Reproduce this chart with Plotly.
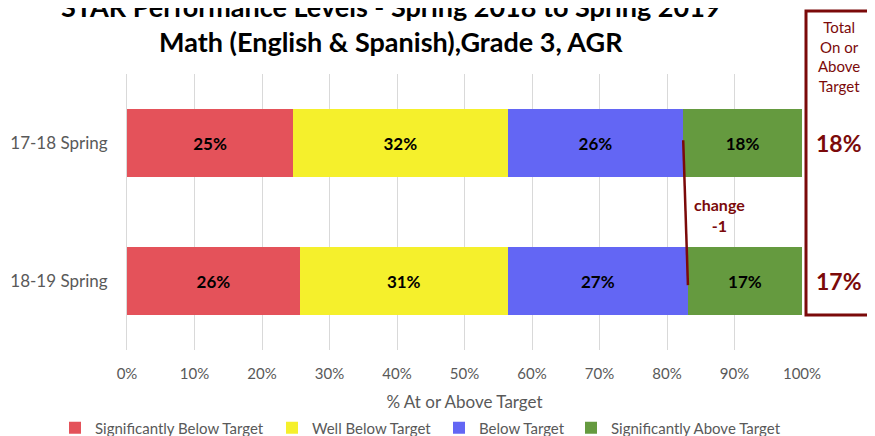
import plotly.graph_objects as go

categories = ["17-18 Spring", "18-19 Spring"]
series_names = ["Significantly Below Target", "Well Below Target", "Below Target", "Significantly Above Target"]
sig_below = [24.6, 25.6]
well_below = [31.8, 30.8]
below = [26.0, 26.7]
sig_above = [17.6, 16.9]
colors = ["#E4525A", "#F5F02C", "#6366F4", "#659A3F"]
x_ticks = [0, 10, 20, 30, 40, 50, 60, 70, 80, 90, 100]
change_value = -1

DARK_RED = "#7B0A0A"
FONT = "Lato"

# page body has an 8px margin, so the figure sits at (8, 8) in the window
OFF = 8
W, H = 875 - OFF, 436 - OFF
L, R, T, B = 119, 73, 66, 86
pw, ph = W - L - R, H - T - B

def px_x(p):  # window pixel -> paper x
    return (p - OFF - L) / pw

def px_y(p):  # window pixel -> paper y
    return (H - B - (p - OFF)) / ph

legend_ids = ["legend", "legend2", "legend3", "legend4"]
legend_text_px = [93, 310, 477, 609]

fig = go.Figure()
for name, vals, col, lid in zip(series_names, [sig_below, well_below, below, sig_above], colors, legend_ids):
    fig.add_trace(go.Bar(
        y=categories, x=vals, name=name, orientation="h",
        marker=dict(color=col, line=dict(width=0)),
        text=[f"{round(v)}%" for v in vals],
        textposition="inside", insidetextanchor="middle",
        textfont=dict(family=FONT, size=17, color="black", weight="bold"),
        hoverinfo="skip", legend=lid,
    ))

# change line between blue/green boundaries
b0 = sig_below[0] + well_below[0] + below[0]
b1 = sig_below[1] + well_below[1] + below[1]
fig.add_shape(type="line", xref="x", yref="y", x0=b0, y0=-0.02, x1=b1, y1=1.03,
              line=dict(color=DARK_RED, width=2.5))
fig.add_annotation(x=(b0 + b1) / 2 + 5, y=0.52, xref="x", yref="y",
                   xanchor="center", yanchor="middle",
                   text=f"<b>change<br>{change_value}</b>", showarrow=False,
                   font=dict(family=FONT, size=16, color=DARK_RED))

# total box
fig.add_shape(type="rect", xref="paper", yref="paper",
              x0=px_x(806), x1=px_x(872), y0=px_y(315), y1=px_y(11),
              line=dict(color=DARK_RED, width=3), layer="above")
fig.add_annotation(xref="paper", yref="paper", x=px_x(839), y=px_y(57),
                   xanchor="center", yanchor="middle",
                   text="Total<br>On or<br>Above<br>Target", showarrow=False,
                   font=dict(family=FONT, size=15, color=DARK_RED))
for i, v in enumerate(sig_above):
    fig.add_annotation(xref="paper", y=categories[i], yref="y", x=px_x(839),
                       xanchor="center", yanchor="middle",
                       text=f"<b>{round(v)}%</b>", showarrow=False,
                       font=dict(family=FONT, size=23, color=DARK_RED))

legend_common = dict(orientation="h", xanchor="left", yanchor="middle",
                     font=dict(size=15, color="#595959"), itemwidth=30,
                     bgcolor="rgba(0,0,0,0)")
legends = {}
for lid, tx in zip(legend_ids, legend_text_px):
    legends[lid] = dict(legend_common, x=px_x(tx - 38), y=px_y(428))

fig.update_layout(
    width=W, height=H,
    margin=dict(l=L, r=R, t=T, b=B, autoexpand=False),
    barmode="stack", bargap=0.51,
    plot_bgcolor="white", paper_bgcolor="white",
    font=dict(family=FONT, color="#595959"),
    title=dict(text="<b>STAR Performance Levels - Spring 2018 to Spring 2019<br>Math (English & Spanish),Grade 3, AGR</b>",
               x=px_x(425), xanchor="center", y=1 - 9 / H, yanchor="middle",
               font=dict(family=FONT, size=27, color="black")),
    xaxis=dict(range=[0, 100], tickvals=x_ticks, ticktext=[f"{t}%" for t in x_ticks],
               showgrid=True, gridcolor="#D9D9D9", gridwidth=1, zeroline=False,
               tickfont=dict(size=15, color="#595959"), ticklabelstandoff=13,
               title=dict(text="% At or Above Target", font=dict(size=17, color="#595959"), standoff=15),
               showline=False),
    yaxis=dict(autorange="reversed", showgrid=False, showline=True, linecolor="#D9D9D9",
               tickfont=dict(size=17, color="#595959"), ticks="", ticklabelstandoff=15),
    showlegend=True,
    **legends,
)

fig.write_html("out.html")
